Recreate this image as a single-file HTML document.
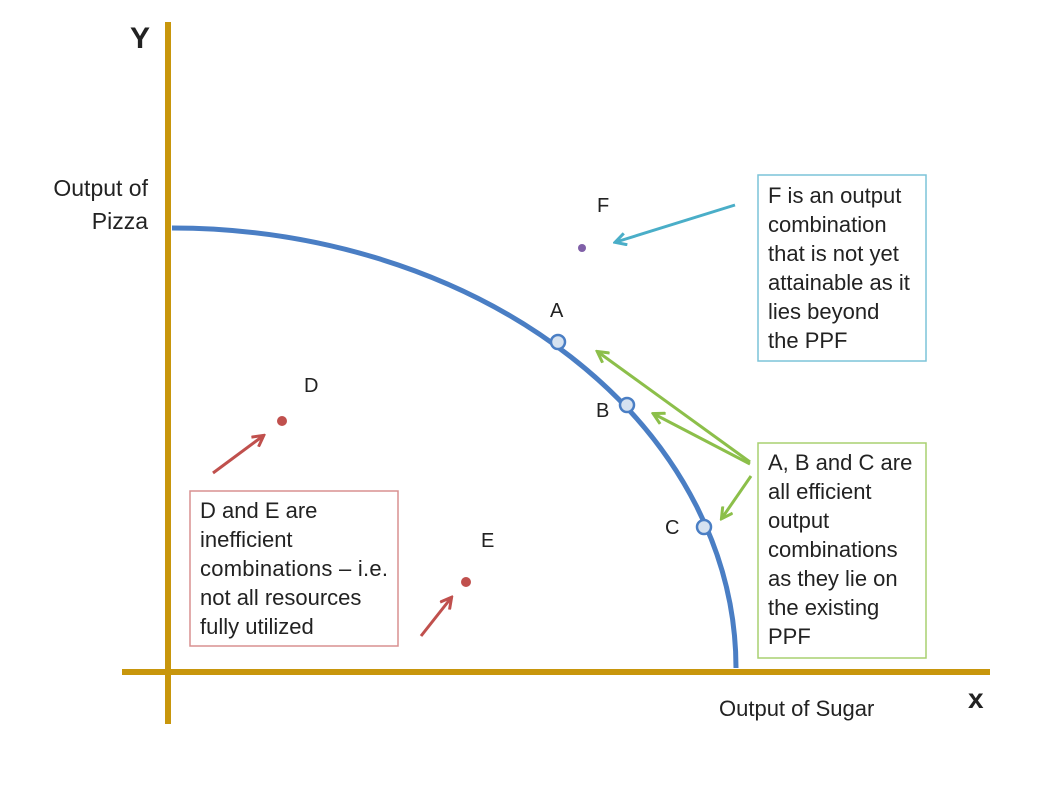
<!DOCTYPE html>
<html><head><meta charset="utf-8"><style>
html,body{margin:0;padding:0;background:#fff;}
svg{display:block;}
text{font-family:"Liberation Sans",sans-serif;fill:#222;}
</style></head><body>
<svg width="1058" height="794" viewBox="0 0 1058 794" xmlns="http://www.w3.org/2000/svg">
<defs>
<marker id="ab" markerWidth="14" markerHeight="14" refX="11" refY="7" orient="auto" markerUnits="userSpaceOnUse"><path d="M1,1 L12,7 L1,13" fill="none" stroke="#4aaec8" stroke-width="3"/></marker>
<marker id="ag" markerWidth="14" markerHeight="14" refX="11" refY="7" orient="auto" markerUnits="userSpaceOnUse"><path d="M1,1 L12,7 L1,13" fill="none" stroke="#8cbf4a" stroke-width="3"/></marker>
<marker id="ar" markerWidth="14" markerHeight="14" refX="11" refY="7" orient="auto" markerUnits="userSpaceOnUse"><path d="M1,1 L12,7 L1,13" fill="none" stroke="#c0504d" stroke-width="3"/></marker>
</defs>
<line x1="168" y1="22" x2="168" y2="724" stroke="#c8960c" stroke-width="6"/>
<line x1="122" y1="672" x2="990" y2="672" stroke="#c8960c" stroke-width="6"/>
<text x="130" y="48" font-size="30" font-weight="bold" fill="#111">Y</text>
<text x="968" y="708" font-size="28" font-weight="bold" fill="#111">x</text>
<text x="148" y="196" font-size="23" text-anchor="end">Output of</text>
<text x="148" y="229" font-size="23" text-anchor="end">Pizza</text>
<text x="719" y="716" font-size="22">Output of Sugar</text>
<path d="M172,228 A564,440 0 0 1 736,668" fill="none" stroke="#4a7ec4" stroke-width="5"/>
<circle cx="558" cy="342" r="7" fill="#d6e2f0" stroke="#4a7ec4" stroke-width="2.5"/>
<circle cx="627" cy="405" r="7" fill="#d6e2f0" stroke="#4a7ec4" stroke-width="2.5"/>
<circle cx="704" cy="527" r="7" fill="#d6e2f0" stroke="#4a7ec4" stroke-width="2.5"/>
<text x="550" y="317" font-size="20">A</text>
<text x="596" y="417" font-size="20">B</text>
<text x="665" y="534" font-size="20">C</text>
<text x="597" y="212" font-size="20">F</text>
<circle cx="582" cy="248" r="4" fill="#8060a8"/>
<text x="304" y="392" font-size="20">D</text>
<circle cx="282" cy="421" r="5" fill="#c0504d"/>
<text x="481" y="547" font-size="20">E</text>
<circle cx="466" cy="582" r="5" fill="#c0504d"/>
<line x1="735" y1="205" x2="616" y2="242" stroke="#4aaec8" stroke-width="3" marker-end="url(#ab)"/>
<line x1="750" y1="462" x2="598" y2="352" stroke="#8cbf4a" stroke-width="3" marker-end="url(#ag)"/>
<line x1="750" y1="464" x2="654" y2="414" stroke="#8cbf4a" stroke-width="3" marker-end="url(#ag)"/>
<line x1="751" y1="476" x2="722" y2="518" stroke="#8cbf4a" stroke-width="3" marker-end="url(#ag)"/>
<line x1="213" y1="473" x2="263" y2="436" stroke="#c0504d" stroke-width="3" marker-end="url(#ar)"/>
<line x1="421" y1="636" x2="451" y2="598" stroke="#c0504d" stroke-width="3" marker-end="url(#ar)"/>
<rect x="758" y="175" width="168" height="186" fill="#fff" stroke="#7cc4d8" stroke-width="1.5"/>
<g font-size="22">
<text x="768" y="203">F is an output</text>
<text x="768" y="232">combination</text>
<text x="768" y="261">that is not yet</text>
<text x="768" y="290">attainable as it</text>
<text x="768" y="319">lies beyond</text>
<text x="768" y="348">the PPF</text>
</g>
<rect x="758" y="443" width="168" height="215" fill="#fff" stroke="#a8d070" stroke-width="1.5"/>
<g font-size="22">
<text x="768" y="470">A, B and C are</text>
<text x="768" y="499">all efficient</text>
<text x="768" y="528">output</text>
<text x="768" y="557">combinations</text>
<text x="768" y="586">as they lie on</text>
<text x="768" y="615">the existing</text>
<text x="768" y="644">PPF</text>
</g>
<rect x="190" y="491" width="208" height="155" fill="#fff" stroke="#d89090" stroke-width="1.5"/>
<g font-size="22">
<text x="200" y="518">D and E are</text>
<text x="200" y="547">inefficient</text>
<text x="200" y="576" textLength="188">combinations – i.e.</text>
<text x="200" y="605">not all resources</text>
<text x="200" y="634">fully utilized</text>
</g>
</svg>
</body></html>
